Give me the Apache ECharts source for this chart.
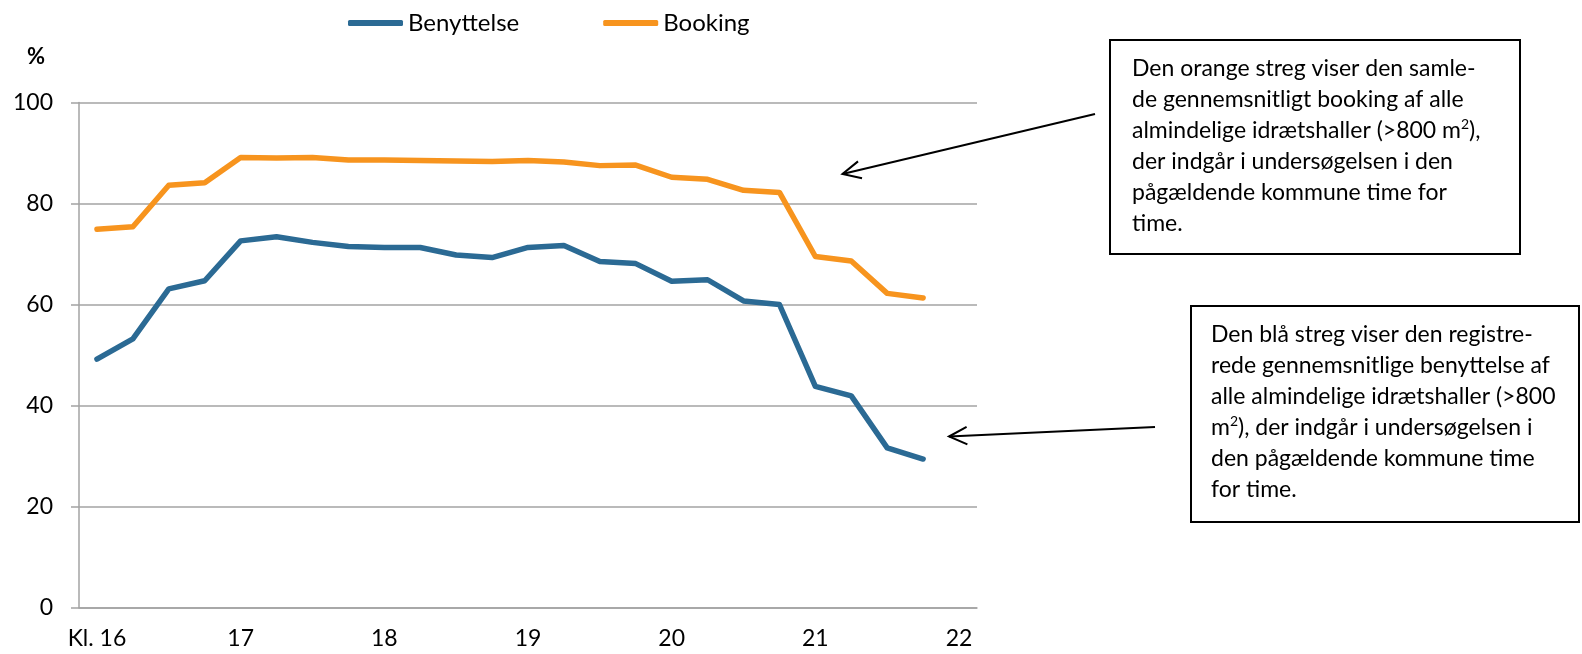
<!DOCTYPE html>
<html>
<head>
<meta charset="utf-8">
<script src="https://cdn.jsdelivr.net/npm/echarts@6/dist/echarts.min.js"></script>
<style>
html,body{margin:0;padding:0;background:#fff;}
#c{width:1582px;height:654px;}
</style>
</head>
<body>
<div id="c"></div>
<script>
// Quarter-hour categories from 16:00 to 22:00
const categories = ['16:00','16:15','16:30','16:45','17:00','17:15','17:30','17:45','18:00','18:15','18:30','18:45','19:00','19:15','19:30','19:45','20:00','20:15','20:30','20:45','21:00','21:15','21:30','21:45','22:00'];
const hourLabels = ['Kl. 16','17','18','19','20','21','22'];
const benyttelse = [49.2,53.2,63.1,64.7,72.6,73.4,72.3,71.5,71.3,71.3,69.8,69.3,71.3,71.7,68.5,68.1,64.6,64.9,60.7,60.0,43.8,41.9,31.6,29.4];
const booking = [74.9,75.4,83.6,84.1,89.1,89.0,89.1,88.6,88.6,88.5,88.4,88.3,88.5,88.2,87.5,87.6,85.2,84.8,82.6,82.2,69.5,68.6,62.2,61.3];
const yTicks = {min:0, max:100, interval:20};

const FONT = 'Lato';
const chart = echarts.init(document.getElementById('c'), null, {renderer:'canvas'});

function arrow(x1,y1,x2,y2,len,ang){
  const a = Math.atan2(y1-y2, x1-x2);
  const w1 = [x2+len*Math.cos(a+ang), y2+len*Math.sin(a+ang)];
  const w2 = [x2+len*Math.cos(a-ang), y2+len*Math.sin(a-ang)];
  return [
    {type:'line', shape:{x1:x1,y1:y1,x2:x2,y2:y2}, style:{stroke:'#000',lineWidth:2}},
    {type:'polyline', shape:{points:[w1,[x2,y2],w2]}, style:{stroke:'#000',lineWidth:2,fill:null}}
  ];
}

const textStyleBox = {
  fontFamily: FONT, fontSize: 23, fill: '#000', lineHeight: 31,
  rich: {
    t: {fontFamily: FONT, fontSize: 23, lineHeight: 31, fill:'#000'},
    s: {fontFamily: FONT, fontSize: 14, lineHeight: 31, verticalAlign:'top', padding:[2,0,0,0], fill:'#000'}
  }
};

const box1Text = ['{t|Den orange streg viser den samle-}','{t|de gennemsnitligt booking af alle}','{t|almindelige idrætshaller (>800 m}{s|2}{t|),}','{t|der indgår i undersøgelsen i den}','{t|pågældende kommune time for}','{t|time.}'].join('\n');
const box2Text = ['{t|Den blå streg viser den registre-}','{t|rede gennemsnitlige benyttelse af}','{t|alle almindelige idrætshaller (>800}','{t|m}{s|2}{t|), der indgår i undersøgelsen i}','{t|den pågældende kommune time}','{t|for time.}'].join('\n');

const option = {
  backgroundColor:'#fff',
  animation:false,
  textStyle:{fontFamily:FONT},
  legend:{
    left:343, top:6,
    itemWidth:55, itemHeight:6, itemGap:84,
    icon:'roundRect',
    textStyle:{fontFamily:FONT, fontSize:24, color:'#000'},
    data:['Benyttelse','Booking']
  },
  grid:{left:79, right:605, top:102.5, bottom:46.5, containLabel:false},
  xAxis:{
    type:'category', data:categories, boundaryGap:true,
    axisLine:{show:true, lineStyle:{color:'#a3a3a3', width:1.5}},
    axisTick:{show:false},
    axisLabel:{
      interval:3, margin:20, fontFamily:FONT, fontSize:23, color:'#000',
      formatter:function(v,i){ return (i%4===0) ? hourLabels[i/4] : ''; }
    },
    splitLine:{show:false}
  },
  yAxis:{
    type:'value', min:yTicks.min, max:yTicks.max, interval:yTicks.interval,
    axisLine:{show:true, lineStyle:{color:'#a3a3a3', width:1.5}},
    axisTick:{show:true, length:8, lineStyle:{color:'#a3a3a3', width:1.5}},
    axisLabel:{margin:26, fontFamily:FONT, fontSize:23, color:'#000'},
    splitLine:{show:true, lineStyle:{color:'#a3a3a3', width:1.5}}
  },
  series:[
    {name:'Benyttelse', type:'line', data:benyttelse, showSymbol:false, symbol:'none',
     itemStyle:{color:'#2B6A94'}, lineStyle:{color:'#2B6A94', width:5.5, cap:'round', join:'round'}},
    {name:'Booking', type:'line', data:booking, showSymbol:false, symbol:'none',
     itemStyle:{color:'#F7941E'}, lineStyle:{color:'#F7941E', width:5.5, cap:'round', join:'round'}}
  ],
  graphic:[
    {type:'text', left:27, top:46, style:{text:'%', fontFamily:FONT, fontSize:22, fontWeight:'bold', fill:'#000'}},
    {type:'rect', shape:{x:1110, y:40, width:410, height:214}, style:{fill:'#fff', stroke:'#000', lineWidth:2}},
    {type:'text', x:1132, y:53, style:Object.assign({text:box1Text}, textStyleBox)},
    {type:'rect', shape:{x:1191, y:306, width:388, height:216}, style:{fill:'#fff', stroke:'#000', lineWidth:2}},
    {type:'text', x:1211, y:319, style:Object.assign({text:box2Text}, textStyleBox)}
  ].concat(arrow(1095,114,842.5,174,20,0.45)).concat(arrow(1155,427,949,436.5,20,0.45))
};
chart.setOption(option);
</script>
</body>
</html>
